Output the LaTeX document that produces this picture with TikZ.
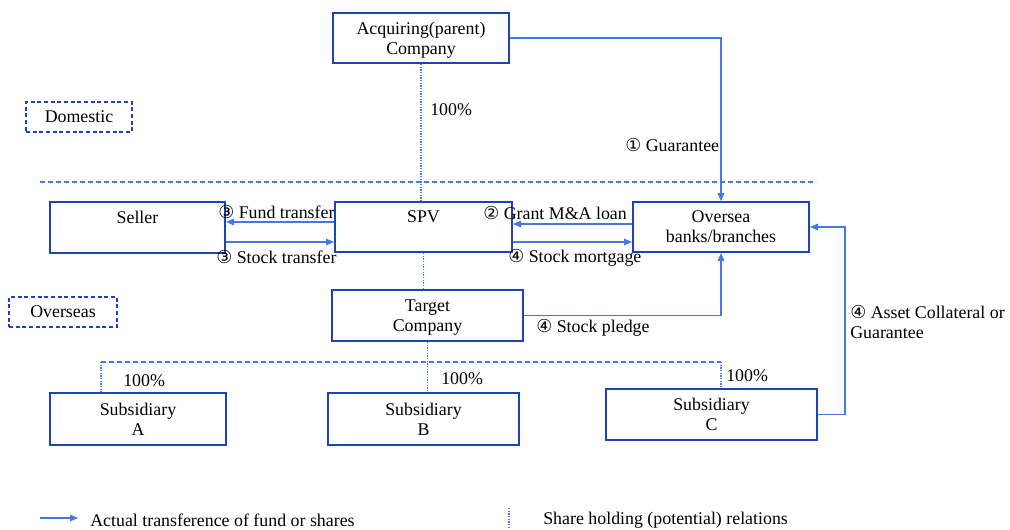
\documentclass[tikz,border=0pt]{standalone}
\usepackage{fontspec}
\setmainfont{Liberation Serif}
\newfontfamily\circfont{DejaVu Sans}
\newcommand\cnum[1]{{\circfont #1}}
\usetikzlibrary{arrows.meta}
\definecolor{boxblue}{RGB}{30,65,190}
\definecolor{lineblue}{RGB}{70,120,225}
\begin{document}
\begin{tikzpicture}[x=0.75pt,y=-0.75pt,
  font=\fontsize{13.4}{15}\selectfont,
  box/.style={draw=boxblue,line width=1.5pt,align=center,inner sep=0pt,text depth=-1.5pt},
  regionbox/.style={draw=boxblue,line width=1.2pt,dash pattern=on 3pt off 2pt,inner sep=0pt,text depth=-2pt},
  arr/.style={draw=lineblue,line width=0.8pt,-{Triangle[length=6pt,width=5pt]}},
  hold/.style={draw=lineblue,line width=0.8pt,dash pattern=on 1pt off 1pt},
  border/.style={draw=lineblue,line width=0.9pt,dash pattern=on 3.5pt off 2.5pt},
  lbl/.style={anchor=west,inner sep=0pt}]
\useasboundingbox (0,0) rectangle (1010,529);

% company boxes
\node[box,minimum width=132pt,minimum height=37.5pt] (acq) at (421,38) {Acquiring(parent)\\Company};
\node[box,minimum width=131.25pt,minimum height=38.25pt] (seller) at (137.5,227.5) {Seller\\\mbox{}};
\node[box,minimum width=132.75pt,minimum height=37.5pt] (spv) at (423.5,227) {SPV\\\mbox{}};
\node[box,minimum width=132pt,minimum height=37.5pt] (bank) at (721,227) {Oversea\\banks/branches};
\node[box,minimum width=143.25pt,minimum height=38.25pt] (target) at (427.5,315.5) {Target\\Company};
\node[box,minimum width=132pt,minimum height=39pt] (subA) at (138,419) {Subsidiary\\A};
\node[box,minimum width=143.25pt,minimum height=39pt] (subB) at (423.5,419) {Subsidiary\\B};
\node[box,minimum width=158.25pt,minimum height=38.25pt] (subC) at (711.5,414.5) {Subsidiary\\C};

% region tags
\node[regionbox,minimum width=79.5pt,minimum height=22.5pt] (dom) at (79,117) {Domestic};
\node[regionbox,minimum width=81pt,minimum height=22.5pt] (ovs) at (63,312) {Overseas};

% domestic / overseas border
\coordinate (bl) at (40,182);
\coordinate (br) at (816,182);
\draw[border] (bl) -- (br);

% levels for the paired arrows
\coordinate (yfund) at (0,222);
\coordinate (ystock) at (0,242);
\coordinate (yloan) at (0,224);

% share holding relations
\draw[hold] (acq.south) -- (acq.south |- spv.north);
\draw[hold] (spv.south) -- (spv.south |- target.north);
\coordinate (tj) at (427.5,362);
\coordinate (ja) at (101,362);
\coordinate (jc) at (721,362);
\draw[hold] (target.south) -- (tj) -- (tj |- subB.north);
\draw[border] (ja) -- (jc);
\draw[hold] (ja) -- (ja |- subA.north);
\draw[hold] (jc) -- (jc |- subC.north);

% transfers
\draw[arr] (spv.west |- yfund) -- (seller.east |- yfund);
\draw[arr] (seller.east |- ystock) -- (spv.west |- ystock);
\draw[arr] (bank.west |- yloan) -- (spv.east |- yloan);
\draw[arr] (spv.east |- ystock) -- (bank.west |- ystock);
\draw[arr] (acq.east) -| (bank.north);
\draw[arr] (target.east) -| (bank.south);
\draw[arr] (subC.east) -- ++(27,0) |- (bank.east);

% labels
\node[lbl] (p1) at (430,110) {100\%};
\node[lbl] (lg) at (625,145) {\cnum{①} Guarantee};
\node[lbl] (lf) at (218,212) {\cnum{③} Fund transfer};
\node[lbl] (ls) at (216,257) {\cnum{③} Stock transfer};
\node[lbl] (ll) at (483,213) {\cnum{②} Grant M\&A loan};
\node[lbl] (lm) at (508,258) {\cnum{④} Stock mortgage};
\node[lbl] (lp) at (536,328) {\cnum{④} Stock pledge};
\node[lbl,align=left] (la) at (850,322) {\cnum{④} Asset Collateral or\\Guarantee};
\node[lbl] (pa) at (123,381) {100\%};
\node[lbl] (pb) at (441,379) {100\%};
\node[lbl] (pc) at (726,376) {100\%};

% legend
\coordinate (k1) at (40,518);
\coordinate (k2) at (78,518);
\draw[arr] (k1) -- (k2);
\node[lbl] (kt1) at (90,520) {Actual transference of fund or shares};
\coordinate (k3) at (509,508);
\coordinate (k4) at (509,529);
\draw[hold] (k3) -- (k4);
\node[lbl] (kt2) at (543,520) {Share holding (potential) relations};
\end{tikzpicture}
\end{document}
